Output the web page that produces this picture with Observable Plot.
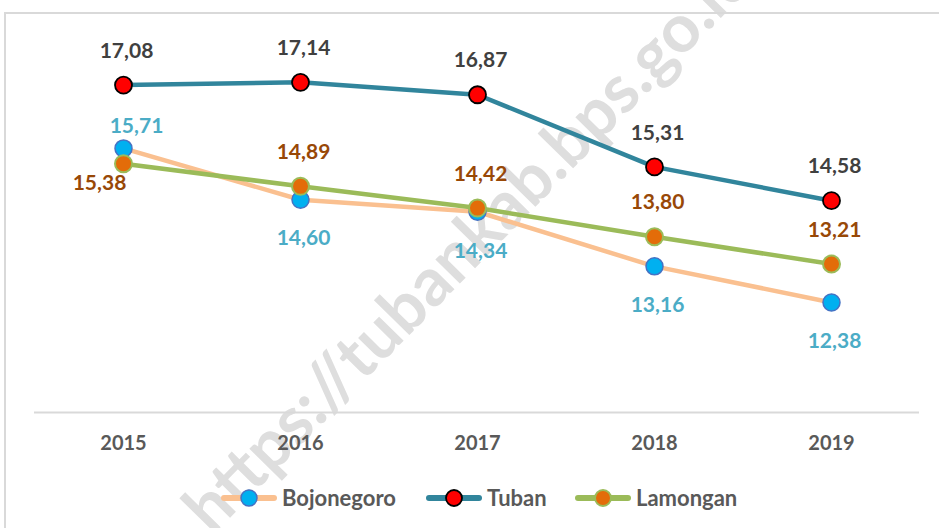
<!DOCTYPE html>
<html>
<head>
<meta charset="utf-8">
<script src="https://cdn.jsdelivr.net/npm/d3@7"></script>
<script src="https://cdn.jsdelivr.net/npm/@observablehq/plot@0.6"></script>
<style>
  html, body { margin: 0; padding: 0; background: #fff; }
  #root { position: relative; width: 939px; height: 528px; overflow: hidden; background: #fff; }
  #frame { position: absolute; left: 4px; top: 12px; width: 1000px; height: 1000px;
           border-top: 2px solid #d9d9d9; border-left: 2px solid #d9d9d9; box-sizing: border-box; }
  #wm { position: absolute; left: 466px; top: 241px; transform: translate(-50%, -50%) rotate(-45.5deg);
        font-family: Lato, sans-serif; font-weight: bold; font-size: 67px; line-height: 1;
        color: #dedede; white-space: nowrap; }
  #chart { position: absolute; left: 0; top: 0; }
  .item { position: absolute; top: 486px; display: flex; align-items: center;
          font-family: Lato, sans-serif; font-weight: bold; font-size: 22px; color: #595959; }
  .item span { margin-left: 4px; line-height: 24px; }
</style>
</head>
<body>
<div id="root">
  <div id="wm">https://tubankab.bps.go.id</div>
  <div id="chart"></div>
  <div id="legend"></div>
  <div id="frame"></div>
</div>
<script>
const years = ["2015", "2016", "2017", "2018", "2019"];
const seriesNames = ["Bojonegoro", "Tuban", "Lamongan"];
const bojonegoro = [15.71, 14.60, 14.34, 13.16, 12.38];
const tuban = [17.08, 17.14, 16.87, 15.31, 14.58];
const lamongan = [15.38, 14.89, 14.42, 13.80, 13.21];

const styles = {
  Bojonegoro: { line: "#FAC090", fill: "#00B0F0", stroke: "#4472C4", sw: 1.5, label: "#4BACC6", legendLeft: 220 },
  Tuban:      { line: "#31859C", fill: "#FF0000", stroke: "#000000", sw: 1.8, label: "#404040", legendLeft: 425 },
  Lamongan:   { line: "#9BBB59", fill: "#E36C09", stroke: "#9BBB59", sw: 2,   label: "#984807", legendLeft: 574 }
};

const valuesBy = { Bojonegoro: bojonegoro, Tuban: tuban, Lamongan: lamongan };
const rows = {};
for (const s of seriesNames) {
  rows[s] = years.map((y, i) => ({ year: y, value: valuesBy[s][i], i, series: s }));
}
const fmt = d => d.value.toFixed(2).replace(".", ",");

const lineMarks = seriesNames.map(s =>
  Plot.line(rows[s], { x: "year", y: "value", stroke: styles[s].line, strokeWidth: 4.5, strokeLinejoin: "round", strokeLinecap: "round" }));
const dotMarks = seriesNames.map(s =>
  Plot.dot(rows[s], { x: "year", y: "value", r: 8.5, fill: styles[s].fill, stroke: styles[s].stroke, strokeWidth: styles[s].sw }));

const labelOpts = (s, extra) => Object.assign({ x: "year", y: "value", text: fmt, fill: styles[s].label, fontSize: 21, fontWeight: "bold" }, extra);
const labelMarks = [
  Plot.text(rows.Tuban, labelOpts("Tuban", { dx: 3, dy: -34 })),
  Plot.text(rows.Bojonegoro.filter(d => d.i === 0), labelOpts("Bojonegoro", { dx: 13, dy: -22 })),
  Plot.text(rows.Bojonegoro.filter(d => d.i > 0), labelOpts("Bojonegoro", { dx: 3, dy: 39 })),
  Plot.text(rows.Lamongan.filter(d => d.i === 0), labelOpts("Lamongan", { dx: -24, dy: 20 })),
  Plot.text(rows.Lamongan.filter(d => d.i > 0), labelOpts("Lamongan", { dx: 3, dy: -34 }))
];

const chart = Plot.plot({
  width: 939,
  height: 470,
  marginLeft: 34,
  marginRight: 20,
  marginTop: 42,
  marginBottom: 58,
  x: { type: "point", domain: years, padding: 0.5, label: null, tickSize: 0, tickPadding: 23 },
  y: { domain: [10, 18], axis: null },
  style: { fontFamily: "Lato, sans-serif", fontWeight: "bold", fontSize: "20px", color: "#595959", background: "transparent", overflow: "visible" },
  marks: [
    Plot.ruleY([10], { stroke: "#d9d9d9", strokeWidth: 2 }),
    ...lineMarks,
    ...dotMarks,
    ...labelMarks
  ]
});
document.getElementById("chart").appendChild(chart);

// Legend
const legend = d3.select("#legend");
for (const s of seriesNames) {
  const item = legend.append("div").attr("class", "item").style("left", styles[s].legendLeft + "px");
  const svg = item.append("svg").attr("width", 58).attr("height", 22);
  svg.append("line").attr("x1", 4).attr("x2", 54).attr("y1", 11).attr("y2", 11)
    .attr("stroke", styles[s].line).attr("stroke-width", 6).attr("stroke-linecap", "round");
  svg.append("circle").attr("cx", 29).attr("cy", 11).attr("r", 8)
    .attr("fill", styles[s].fill).attr("stroke", styles[s].stroke).attr("stroke-width", styles[s].sw);
  item.append("span").text(s);
}
</script>
</body>
</html>
